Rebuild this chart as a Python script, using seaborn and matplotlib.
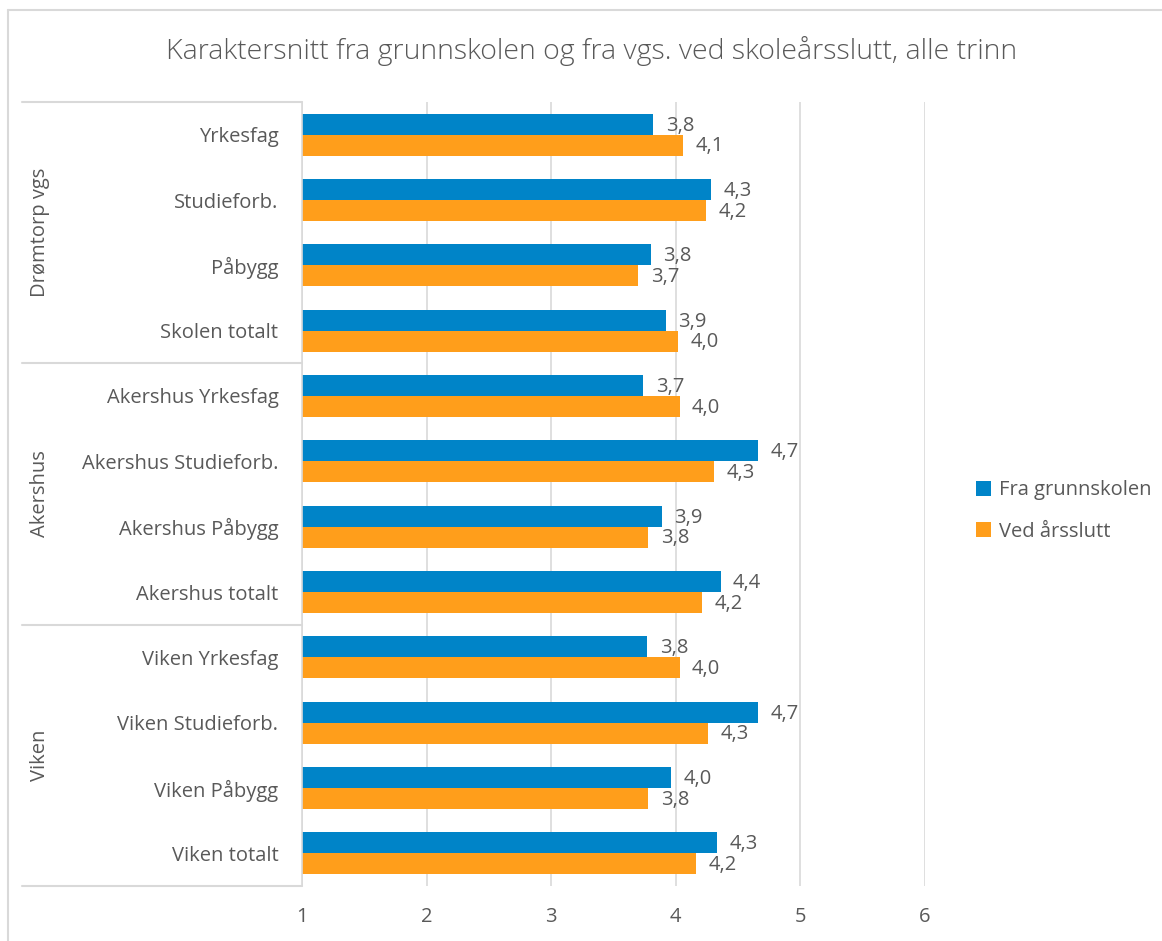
import pandas as pd
import seaborn as sns
import matplotlib.pyplot as plt
from matplotlib.lines import Line2D

# Data
categories = ['Yrkesfag', 'Studieforb.', 'Påbygg', 'Skolen totalt',
              'Akershus Yrkesfag', 'Akershus Studieforb.', 'Akershus Påbygg', 'Akershus totalt',
              'Viken Yrkesfag', 'Viken Studieforb.', 'Viken Påbygg', 'Viken totalt']
groups = ['Drømtorp vgs', 'Akershus', 'Viken']
fra_grunnskolen = [3.82, 4.28, 3.80, 3.92, 3.74, 4.66, 3.89, 4.36, 3.77, 4.66, 3.96, 4.33]
ved_arsslutt = [4.06, 4.24, 3.70, 4.02, 4.03, 4.31, 3.78, 4.21, 4.03, 4.26, 3.78, 4.16]
series = ['Fra grunnskolen', 'Ved årsslutt']
x_ticks = [1, 2, 3, 4, 5, 6]

BLUE = '#0084C8'
ORANGE = '#FF9E1B'
TEXT = '#595959'
GRID = '#D9D9D9'
FS = 14.5


def main():
    df = pd.DataFrame({
        'kategori': categories * 2,
        'serie': [series[0]] * len(categories) + [series[1]] * len(categories),
        'snitt': fra_grunnskolen + ved_arsslutt,
    })

    sns.set_theme(style='white')
    plt.rcParams['font.family'] = ['Open Sans', 'DejaVu Sans']

    W, H = 1162, 941
    fig = plt.figure(figsize=(W / 100, H / 100), dpi=100)
    ax = fig.add_axes([302 / W, (H - 886) / H, (925 - 302) / W, (886 - 102) / H])

    sns.barplot(data=df, y='kategori', x='snitt', hue='serie', orient='h',
                palette=[BLUE, ORANGE], width=0.64, gap=0, saturation=1,
                edgecolor='none', ax=ax, legend=True)

    ax.set_xlim(1, 6)
    ax.set_xticks(x_ticks)
    ax.set_xlabel('')
    ax.set_ylabel('')
    ax.grid(axis='x', color=GRID, linewidth=1.2)
    ax.set_axisbelow(True)
    for side in ['top', 'right', 'bottom']:
        ax.spines[side].set_visible(False)
    ax.spines['left'].set_color(GRID)
    ax.spines['left'].set_linewidth(1.2)
    ax.tick_params(axis='y', length=0, pad=17, labelsize=FS, labelcolor=TEXT)
    ax.tick_params(axis='x', length=0, pad=15, labelsize=FS, labelcolor=TEXT)

    # data labels with decimal comma
    for cont in ax.containers:
        for bar in cont:
            val = bar.get_width()
            ax.text(val + 0.1, bar.get_y() + bar.get_height() / 2 + 0.02,
                    f'{val:.1f}'.replace('.', ','), va='center', ha='left',
                    fontsize=FS, color=TEXT)

    # group separators and group labels on the left
    trans = ax.get_yaxis_transform()
    x0 = (22 - 302) / (925 - 302)
    for b in [-0.5, 3.5, 7.5, 11.5]:
        ax.add_line(Line2D([x0, 0], [b, b], transform=trans, color=GRID,
                           linewidth=1.5, clip_on=False))
    xg = (40 - 302) / (925 - 302)
    for i, g in enumerate(groups):
        ax.text(xg, i * 4 + 1.5, g, transform=trans, rotation=90,
                ha='center', va='center', fontsize=FS, color=TEXT)

    # legend to the right
    handles, labels = ax.get_legend_handles_labels()
    ax.legend_.remove()
    fig.legend(handles, labels, loc='center left', bbox_to_anchor=(958 / W, 1 - 511 / H),
               frameon=False, fontsize=FS, labelcolor=TEXT, handlelength=0.75,
               handleheight=0.75, handletextpad=0.4, labelspacing=1.05)

    fig.suptitle('Karaktersnitt fra grunnskolen og fra vgs. ved skoleårsslutt, alle trinn',
                 x=592 / W, y=1 - 51 / H, va='center', fontsize=20.5, color=TEXT,
                 fontweight='light')

    # chart border
    fig.add_artist(Line2D([8 / W, 8 / W], [0, 1 - 10 / H], color=GRID, linewidth=1.5))
    fig.add_artist(Line2D([8 / W, 1], [1 - 10 / H, 1 - 10 / H], color=GRID, linewidth=1.5))

    fig.savefig('out.png', dpi=100)


if __name__ == '__main__':
    main()
